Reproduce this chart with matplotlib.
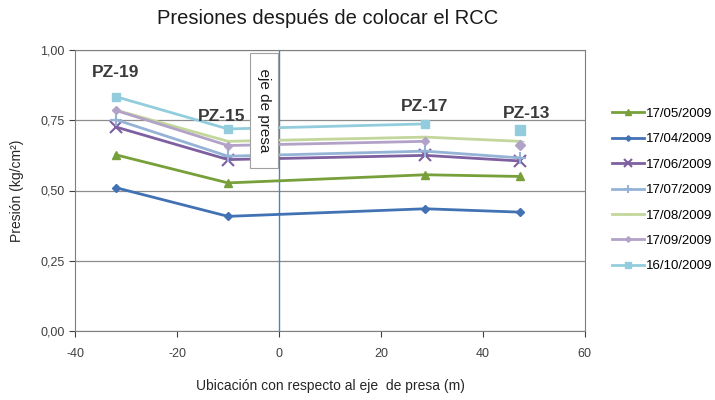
import numpy as np
import matplotlib
matplotlib.use("Agg")
import matplotlib.pyplot as plt
from matplotlib.ticker import FuncFormatter

# piezometer positions relative to dam axis (m)
wells = ["PZ-19", "PZ-15", "PZ-17", "PZ-13"]
x_pos = [-32.0, -10.0, 28.7, 47.3]

dates = ["17/05/2009", "17/04/2009", "17/06/2009", "17/07/2009",
         "17/08/2009", "17/09/2009", "16/10/2009"]
p_0505 = [0.627, 0.527, 0.556, 0.550]
p_0404 = [0.510, 0.408, 0.435, 0.423]
p_0606 = [0.726, 0.610, 0.625, 0.605]
p_0707 = [0.752, 0.622, 0.640, 0.616]
p_0808 = [0.786, 0.675, 0.690, 0.675]
p_0909 = [0.785, 0.660, 0.675, 0.663]
p_1010 = [0.834, 0.719, 0.737, 0.714]
series = [p_0505, p_0404, p_0606, p_0707, p_0808, p_0909, p_1010]

colors = ["#77A03A", "#4272B4", "#7E5FA0", "#95B3D7", "#C3D69B", "#B3A2C7", "#93CDDD"]
markers = ["^", "D", "x", "+", "_", "D", "s"]
msizes = [6, 4, 9, 9, 6, 4, 6]
# last point of these series is not joined by the line in the original
loose_last = [False, False, False, False, False, True, True]

plt.rcParams.update({"font.family": ["Liberation Sans", "DejaVu Sans"],
                     "axes.unicode_minus": False})
fig = plt.figure(figsize=(7.15, 4.0), dpi=100)
ax = fig.add_axes([0.105, 0.1725, 0.713, 0.7025])

for vals, d, c, m, ms, loose in zip(series, dates, colors, markers, msizes, loose_last):
    n = 3 if loose else 4
    mew = 1.5 if m in ("x", "+") else 1.0
    ax.plot(x_pos[:n], vals[:n], color=c, lw=2.0, marker=m, ms=ms, mew=mew, label=d)
    if loose:
        ax.plot(x_pos[3:], vals[3:], color=c, lw=0, marker=m, ms=ms + 1)

ax.axvline(0, color="#4F81BD", lw=1.0, zorder=1)

ax.set_xlim(-40, 60)
ax.set_ylim(0, 1.0)
ax.set_xticks(range(-40, 61, 20))
ax.set_yticks(np.arange(0, 1.01, 0.25))
ax.yaxis.set_major_formatter(FuncFormatter(lambda v, p: f"{v:.2f}".replace(".", ",")))
ax.grid(axis="y", color="#8C8C8C", lw=0.9)
ax.set_axisbelow(True)
for s in ax.spines.values():
    s.set_color("#7F7F7F")
ax.tick_params(colors="#404040", labelsize=9, length=4, direction="out")
ax.tick_params(axis="x", pad=8)

lab_xy = [(-32, 0.92, "PZ-19"), (-11.2, 0.765, "PZ-15"), (28.5, 0.80, "PZ-17"), (48.5, 0.775, "PZ-13")]
for lx, ly, t in lab_xy:
    ax.text(lx, ly, t, ha="center", va="center", fontsize=12.5, fontweight="bold", color="#3A3A3A")

ax.text(-2.9, 0.785, "  eje de presa  ", rotation=-90, ha="center", va="center", fontsize=11,
        color="#1A1A1A", bbox=dict(boxstyle="square,pad=0.45", fc="white", ec="#A0A0A0", lw=0.8))

ax.set_ylabel("Presión (kg/cm²)", fontsize=10, color="#262626", labelpad=12)
ax.set_xlabel("Ubicación con respecto al eje  de presa (m)", fontsize=10, color="#262626", labelpad=14)
fig.text(0.458, 0.955, "Presiones después de colocar el RCC", ha="center", va="center",
         fontsize=14.5, color="#1A1A1A")

fig.legend(loc="center left", bbox_to_anchor=(0.84, 0.525), frameon=False, fontsize=9.5,
           handlelength=2.4, handletextpad=0.1, labelspacing=1.0, markerscale=0.7)

fig.savefig("out.png", dpi=100)
